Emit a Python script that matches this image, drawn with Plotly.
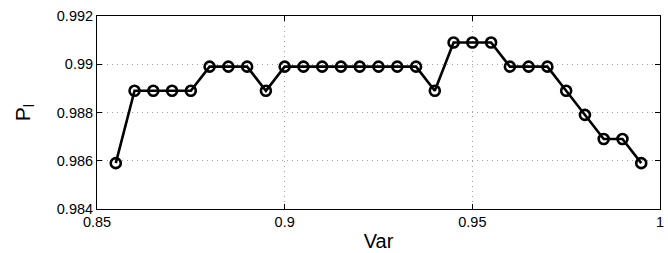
import plotly.graph_objects as go

x_vals = [0.855, 0.86, 0.865, 0.87, 0.875, 0.88, 0.885, 0.89, 0.895, 0.9,
          0.905, 0.91, 0.915, 0.92, 0.925, 0.93, 0.935, 0.94, 0.945, 0.95,
          0.955, 0.96, 0.965, 0.97, 0.975, 0.98, 0.985, 0.99, 0.995]
p_vals = [0.9859, 0.9889, 0.9889, 0.9889, 0.9889, 0.9899, 0.9899, 0.9899, 0.9889, 0.9899,
          0.9899, 0.9899, 0.9899, 0.9899, 0.9899, 0.9899, 0.9899, 0.9889, 0.9909, 0.9909,
          0.9909, 0.9899, 0.9899, 0.9899, 0.9889, 0.9879, 0.9869, 0.9869, 0.9859]
x_ticks = [0.85, 0.9, 0.95, 1.0]
x_ticklabels = ["0.85", "0.9", "0.95", "1"]
y_ticks = [0.984, 0.986, 0.988, 0.99, 0.992]
y_ticklabels = ["0.984", "0.986", "0.988", "0.99", "0.992"]

fig = go.Figure()
fig.add_trace(go.Scatter(
    x=x_vals, y=p_vals, mode="lines+markers",
    line=dict(color="black", width=2.6),
    marker=dict(symbol="circle-open", size=10, color="black", line=dict(width=2.6, color="black")),
    showlegend=False, cliponaxis=False,
))

font = dict(family="Liberation Sans, Arial, sans-serif", color="black")
axis_common = dict(
    showline=True, linecolor="black", linewidth=1, mirror="ticks",
    ticks="inside", ticklen=5, tickcolor="black",
    showgrid=True, gridcolor="#a0a0a0", griddash="1px,4px", gridwidth=1,
    zeroline=False, tickfont=dict(size=14.5, **font),
    ticklabeloverflow="allow",
)
fig.update_xaxes(range=[0.85, 1.0], tickvals=x_ticks, ticktext=x_ticklabels,
                 title=dict(text="Var", font=dict(size=20, **font), standoff=4),
                 **axis_common)
fig.update_yaxes(range=[0.984, 0.992], tickvals=y_ticks, ticktext=y_ticklabels,
                 title=dict(text="P<sub>l</sub>", font=dict(size=21, **font), standoff=20),
                 **axis_common)
fig.update_layout(
    width=668, height=253,
    margin=dict(l=97, r=4, t=16, b=44),
    paper_bgcolor="white", plot_bgcolor="white",
    font=font,
)
fig.write_html(
    "out.html",
    config={"displayModeBar": False},
    post_script="document.body.style.margin='0';document.body.style.overflow='hidden';",
)
